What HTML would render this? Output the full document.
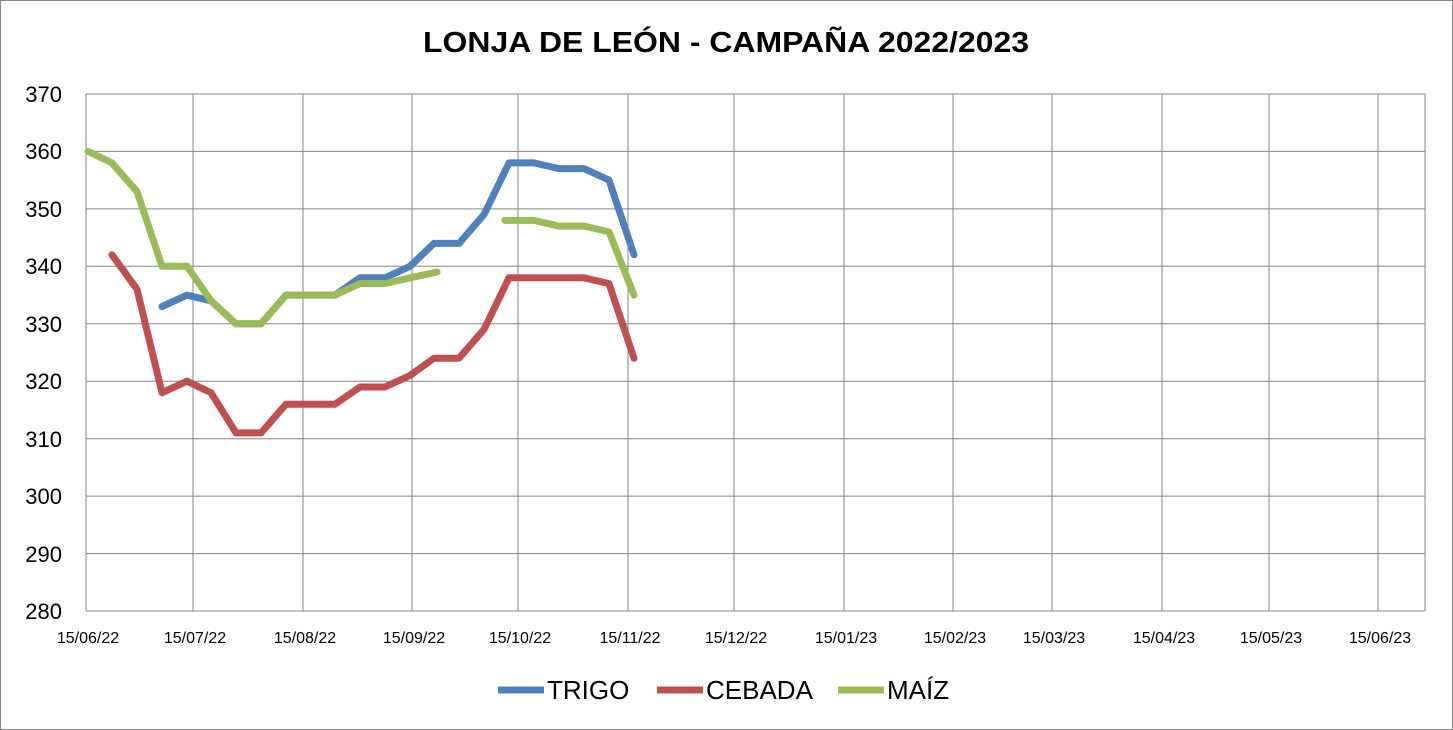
<!DOCTYPE html>
<html><head><meta charset="utf-8"><style>
body{margin:0;background:#fff;}
svg{display:block;font-family:"Liberation Sans",Arial,sans-serif;}
</style></head><body>
<svg width="1453" height="730" viewBox="0 0 1453 730" xmlns="http://www.w3.org/2000/svg">
<rect x="0.5" y="0.5" width="1452" height="729" fill="#fff" stroke="#868686"/>
<text x="726" y="52" text-anchor="middle" font-size="29" font-weight="bold" textLength="606" lengthAdjust="spacingAndGlyphs">LONJA DE LEÓN - CAMPAÑA 2022/2023</text>
<g stroke="#868686" stroke-width="1">
<line x1="86" y1="94" x2="1425" y2="94"/><line x1="86" y1="151.4" x2="1425" y2="151.4"/>
<line x1="86" y1="208.9" x2="1425" y2="208.9"/><line x1="86" y1="266.3" x2="1425" y2="266.3"/>
<line x1="86" y1="323.8" x2="1425" y2="323.8"/><line x1="86" y1="381.2" x2="1425" y2="381.2"/>
<line x1="86" y1="438.7" x2="1425" y2="438.7"/><line x1="86" y1="496.1" x2="1425" y2="496.1"/>
<line x1="86" y1="553.6" x2="1425" y2="553.6"/><line x1="86" y1="611" x2="1425" y2="611"/>
<line x1="193" y1="94" x2="193" y2="611"/><line x1="303" y1="94" x2="303" y2="611"/>
<line x1="412" y1="94" x2="412" y2="611"/><line x1="518" y1="94" x2="518" y2="611"/>
<line x1="628" y1="94" x2="628" y2="611"/><line x1="734" y1="94" x2="734" y2="611"/>
<line x1="844" y1="94" x2="844" y2="611"/><line x1="953" y1="94" x2="953" y2="611"/>
<line x1="1052" y1="94" x2="1052" y2="611"/><line x1="1162" y1="94" x2="1162" y2="611"/>
<line x1="1269" y1="94" x2="1269" y2="611"/><line x1="1378" y1="94" x2="1378" y2="611"/>
<line x1="1425" y1="94" x2="1425" y2="611"/><line x1="86" y1="94" x2="86" y2="611"/>
</g>
<g font-size="22" text-anchor="end">
<text x="62" y="102">370</text><text x="62" y="159">360</text><text x="62" y="217">350</text>
<text x="62" y="274">340</text><text x="62" y="332">330</text><text x="62" y="389">320</text>
<text x="62" y="447">310</text><text x="62" y="504">300</text><text x="62" y="562">290</text>
<text x="62" y="619">280</text>
</g>
<g font-size="16" text-anchor="middle">
<text x="88" y="643">15/06/22</text><text x="195" y="643">15/07/22</text><text x="305" y="643">15/08/22</text>
<text x="414" y="643">15/09/22</text><text x="520" y="643">15/10/22</text><text x="630" y="643">15/11/22</text>
<text x="736" y="643">15/12/22</text><text x="846" y="643">15/01/23</text><text x="955" y="643">15/02/23</text>
<text x="1054" y="643">15/03/23</text><text x="1164" y="643">15/04/23</text><text x="1271" y="643">15/05/23</text>
<text x="1380" y="643">15/06/23</text>
</g>
<g fill="none" stroke-width="7" stroke-linejoin="round" stroke-linecap="round">
<polyline stroke="#4F81BD" points="162,306.6 187,295.1 211,300.8 236,323.8 261,323.8 286,295.1 310,295.1 335,295.1 360,277.8 385,277.8 410,266.3 434,243.4 459,243.4 484,214.6 509,162.9 534,162.9 559,168.6 584,168.6 609,180.1 634,254.8"/>
<polyline stroke="#C0504D" points="112,254.8 137,289.3 162,392.7 187,381.2 211,392.7 236,432.9 261,432.9 286,404.2 310,404.2 335,404.2 360,387.0 385,387.0 410,375.5 434,358.2 459,358.2 484,329.5 509,277.8 534,277.8 559,277.8 584,277.8 609,283.6 634,358.2"/>
<polyline stroke="#9BBB59" points="88,151.4 112,162.9 137,191.6 162,266.3 187,266.3 211,300.8 236,323.8 261,323.8 286,295.1 310,295.1 335,295.1 360,283.6 385,283.6 410,277.8 437,272.1"/>
<polyline stroke="#9BBB59" points="505,220.4 534,220.4 559,226.1 584,226.1 609,231.9 634,295.1"/>
</g>
<g stroke-width="7">
<line x1="498" y1="690" x2="544" y2="690" stroke="#4F81BD"/>
<line x1="657" y1="690" x2="703" y2="690" stroke="#C0504D"/>
<line x1="838" y1="690" x2="884" y2="690" stroke="#9BBB59"/>
</g>
<g font-size="26">
<text x="547" y="699">TRIGO</text><text x="706" y="699">CEBADA</text><text x="887" y="699">MAÍZ</text>
</g>
</svg>
</body></html>
